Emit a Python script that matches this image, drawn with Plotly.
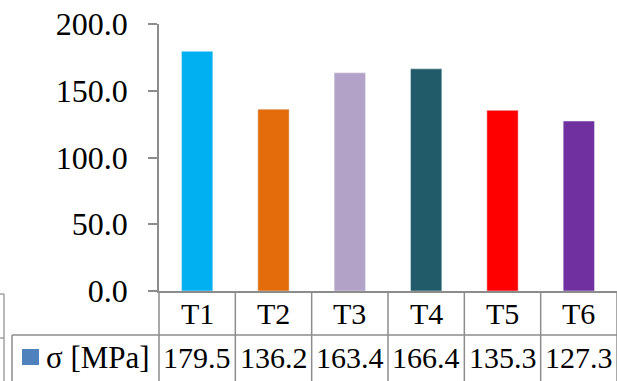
import plotly.graph_objects as go

categories = ["T1", "T2", "T3", "T4", "T5", "T6"]
values = [179.5, 136.2, 163.4, 166.4, 135.3, 127.3]
colors = ["#00b0f0", "#e46c0a", "#b3a2c7", "#215a69", "#ff0000", "#7030a0"]
series_name = "σ [MPa]"
y_ticks = [0, 50, 100, 150, 200]

W, H = 617, 381
ML, MR, MT, MB = 159, 0, 24, 90
PW, PH = W - ML - MR, H - MT - MB
GRAY = "#8c8c8c"
FONT = "Liberation Serif"
FS = 30

def px_x(p):
    return (p - ML) / PW

def px_y(p):
    return (H - MB - p) / PH

fig = go.Figure(go.Bar(x=categories, y=values, marker_color=colors, width=0.41,
                       showlegend=False, hoverinfo="skip"))

shapes = []
n = len(categories)
shapes.append(dict(type="line", xref="paper", yref="paper", x0=px_x(12), x1=1, y0=px_y(335), y1=px_y(335),
                   line=dict(color=GRAY, width=1.5)))
for k in range(n + 1):
    shapes.append(dict(type="line", xref="paper", yref="paper", x0=k / n, x1=k / n, y0=0, y1=px_y(H),
                       line=dict(color=GRAY, width=1.5)))
shapes.append(dict(type="line", xref="paper", yref="paper", x0=px_x(12), x1=px_x(12), y0=px_y(335), y1=px_y(H),
                   line=dict(color=GRAY, width=1.5)))
shapes.append(dict(type="line", xref="paper", yref="paper", x0=px_x(4), x1=px_x(4), y0=px_y(294), y1=px_y(H),
                   line=dict(color=GRAY, width=1.2)))
for yy in (294, 338):
    shapes.append(dict(type="line", xref="paper", yref="paper", x0=px_x(0), x1=px_x(4), y0=px_y(yy), y1=px_y(yy),
                       line=dict(color=GRAY, width=1.2)))
shapes.append(dict(type="rect", xref="paper", yref="paper", x0=px_x(22), x1=px_x(39), y0=px_y(365), y1=px_y(349),
                   fillcolor="#4f81bd", line=dict(width=0)))

annotations = []
for c, v in zip(categories, values):
    annotations.append(dict(x=c, y=px_y(313), xref="x", yref="paper", text=c, showarrow=False,
                            font=dict(family=FONT, size=FS, color="black"), xanchor="center", yanchor="middle"))
    annotations.append(dict(x=c, y=px_y(357), xref="x", yref="paper", text=f"{v:.1f}", showarrow=False,
                            font=dict(family=FONT, size=FS, color="black"), xanchor="center", yanchor="middle"))
annotations.append(dict(x=px_x(44), y=px_y(357), xref="paper", yref="paper", text=series_name, showarrow=False,
                        font=dict(family=FONT, size=31, color="black"), xanchor="left", yanchor="middle"))

fig.update_layout(
    width=W, height=H,
    margin=dict(l=ML, r=MR, t=MT, b=MB, pad=0),
    paper_bgcolor="white", plot_bgcolor="white",
    shapes=shapes, annotations=annotations,
    font=dict(family=FONT, size=FS, color="black"),
    hovermode=False,
    xaxis=dict(showticklabels=False, showline=True, linecolor=GRAY, linewidth=1.5,
               ticks="", showgrid=False, zeroline=False),
    yaxis=dict(range=[0, 200], tickvals=y_ticks, tickformat=".1f", showline=True, linecolor=GRAY,
               linewidth=1.5, ticks="outside", ticklen=9, tickcolor=GRAY, tickwidth=1.5,
               showgrid=False, zeroline=False, ticklabelstandoff=14,
               tickfont=dict(family=FONT, size=32, color="black")),
)

fig.write_html("out.html", config={"displayModeBar": False},
               post_script="document.body.style.margin='0';document.body.style.overflow='hidden';")
